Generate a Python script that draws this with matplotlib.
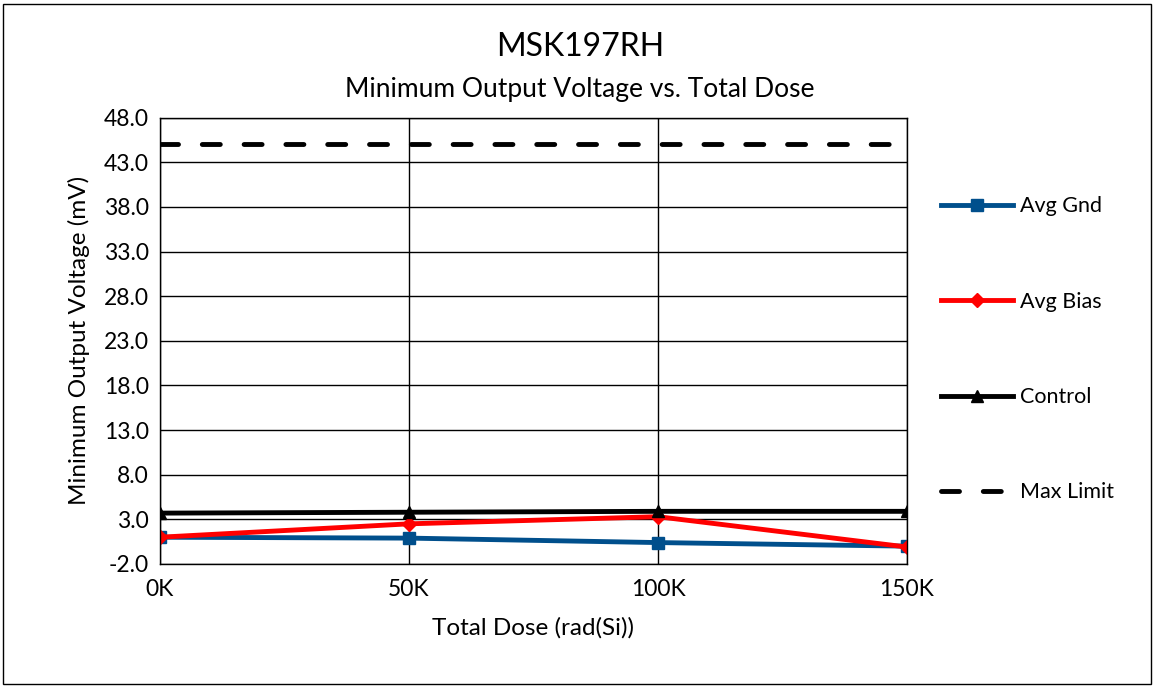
import matplotlib.pyplot as plt
from matplotlib.patches import Rectangle

plt.rcParams['font.family'] = ['Lato', 'DejaVu Sans']

## DATA

dose = [0, 50, 100, 150]
dose_labels = ['0K', '50K', '100K', '150K']
avg_gnd = [1.0, 0.9, 0.4, 0.0]
avg_bias = [1.0, 2.5, 3.3, -0.1]
control = [3.7, 3.8, 3.9, 3.9]
max_limit = [45.0, 45.0, 45.0, 45.0]
yticks = [-2.0 + 5 * i for i in range(11)]

## FIGURE

fig = plt.figure(figsize=(11.56, 6.88), dpi=100)
ax = fig.add_axes([160 / 1156, 1 - 564 / 688, (907 - 160) / 1156, (564 - 117.7) / 688])

ax.plot(dose, avg_gnd, color='#004f8c', lw=3.5, marker='s', ms=8, label='Avg Gnd')
ax.plot(dose, avg_bias, color='#ff0000', lw=3.5, marker='D', ms=7, label='Avg Bias')
ax.plot(dose, control, color='black', lw=3.5, marker='^', ms=8, label='Control')
ax.plot(dose, max_limit, color='black', lw=3.5, dashes=(3.7, 4.9),
        dash_capstyle='round', label='Max Limit')

ax.set_xlim(0, 150)
ax.set_ylim(-2, 48)
ax.set_xticks(dose)
ax.set_xticklabels(dose_labels)
ax.set_yticks(yticks)
ax.set_yticklabels(['%.1f' % v for v in yticks])
ax.tick_params(length=0, labelsize=16.5)
ax.tick_params(axis='x', pad=11)
ax.tick_params(axis='y', pad=8)
ax.grid(True, color='black', lw=1)
for s in ax.spines.values():
    s.set_color('black')
    s.set_linewidth(1)

ax.set_xlabel('Total Dose (rad(Si))', fontsize=17.5, labelpad=12)
ax.set_ylabel('Minimum Output Voltage (mV)', fontsize=17.5, labelpad=10)

fig.text(580 / 1156, 1 - 47 / 688, 'MSK197RH', fontsize=23, ha='center', va='center')
fig.text(580 / 1156, 1 - 90 / 688, 'Minimum Output Voltage vs. Total Dose', fontsize=19,
         ha='center', va='center')

leg = fig.legend(loc='upper left', bbox_to_anchor=(922 / 1156, 1 - 177 / 688),
                 frameon=False, fontsize=15.5, handlelength=3.35, handletextpad=0.3,
                 labelspacing=3.5)

fig.patches.append(Rectangle((0.003, 0.006), 0.993, 0.988, transform=fig.transFigure,
                             fill=False, edgecolor='black', lw=1))

fig.savefig('out.png', dpi=100)
